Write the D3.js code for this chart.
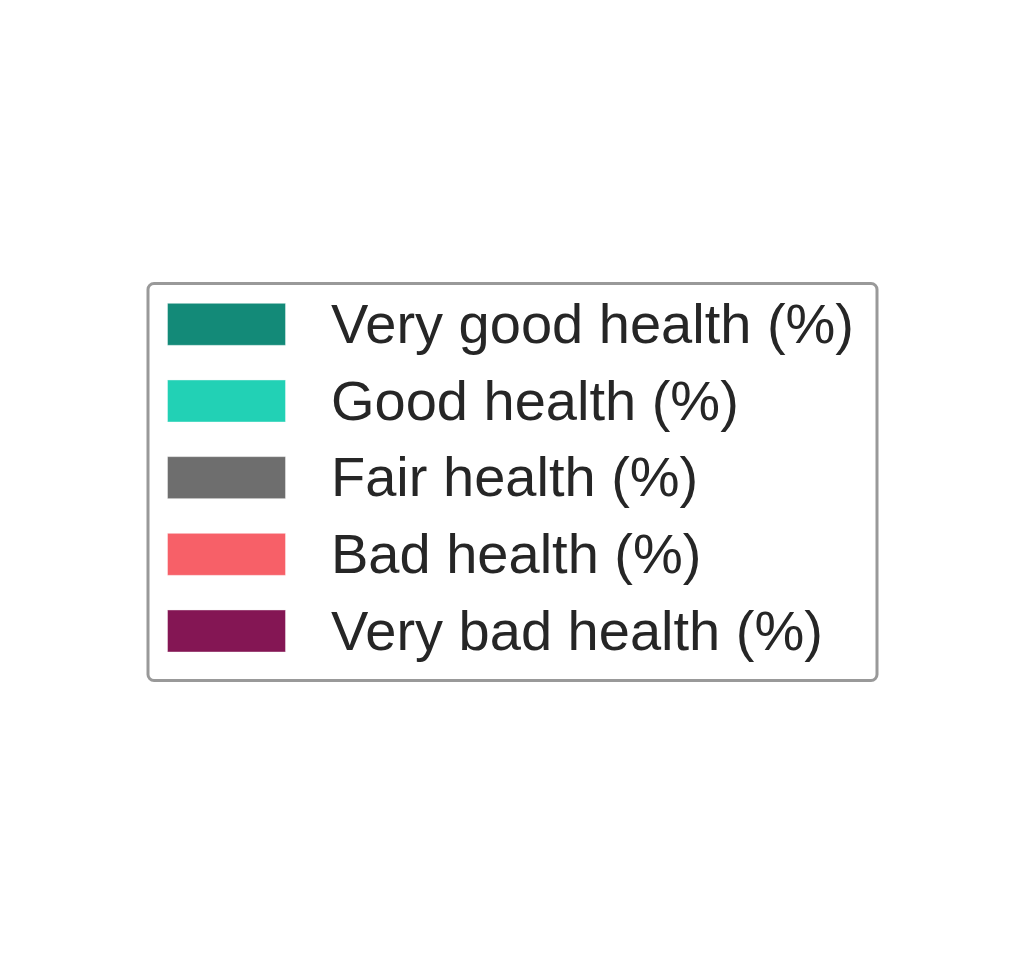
<!DOCTYPE html>
<html>
<head>
<meta charset="utf-8">
<script src="https://cdn.jsdelivr.net/npm/d3@7"></script>
<style>
body { margin: 0; background: #fff; }
</style>
</head>
<body>
<script>
var width = 1024;
var height = 963;

var categories = ["Very good health (%)", "Good health (%)", "Fair health (%)", "Bad health (%)", "Very bad health (%)"];
var colors = ["#138a78", "#22d1b5", "#6e6e6e", "#f76068", "#841654"];

var svg = d3.select("body")
.append("svg")
.attr("width", width)
.attr("height", height);

// legend frame
svg.append("rect")
.attr("x", 148)
.attr("y", 283.5)
.attr("width", 729)
.attr("height", 397)
.attr("rx", 6)
.attr("fill", "#fff")
.attr("stroke", "#999")
.attr("stroke-width", 3);

var color = d3.scaleOrdinal()
.domain(categories)
.range(colors);

var y = d3.scaleBand()
.domain(categories)
.range([303.3, 652])
.paddingInner(0.452)
.paddingOuter(0);

var rows = svg.selectAll(".row")
.data(categories)
.enter()
.append("g")
.attr("class", "row")
.attr("transform", function(d){
	return "translate(0," + y(d) + ")";
});

rows.append("rect")
.attr("x", 167.5)
.attr("y", 0)
.attr("width", 118)
.attr("height", y.bandwidth())
.attr("fill", function(d){ return color(d); })
.attr("stroke", "#fff")
.attr("stroke-opacity", 0.4)
.attr("stroke-width", 1);

rows.append("text")
.attr("x", 331)
.attr("y", y.bandwidth() / 2)
.attr("dy", "0.335em")
.attr("fill", "#262626")
.attr("font-family", "Liberation Sans, Arial, sans-serif")
.attr("font-size", "56px")
.text(function(d){ return d; });
</script>
</body>
</html>
